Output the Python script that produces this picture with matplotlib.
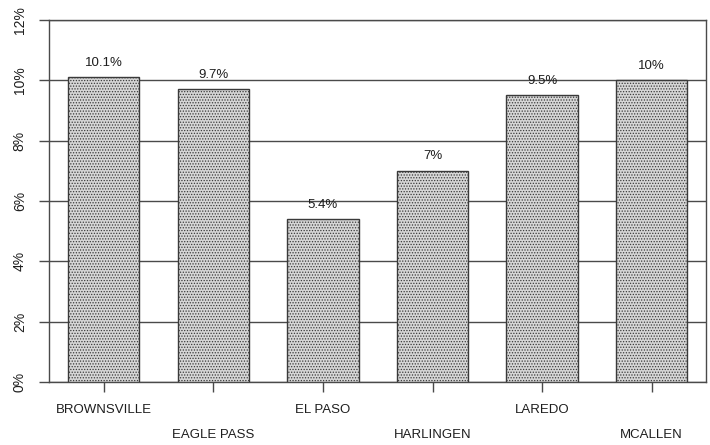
import matplotlib.pyplot as plt
from matplotlib.ticker import FuncFormatter

cities = ["BROWNSVILLE", "EAGLE PASS", "EL PASO", "HARLINGEN", "LAREDO", "MCALLEN"]
rates = [10.1, 9.7, 5.4, 7.0, 9.5, 10.0]
rate_labels = ["10.1%", "9.7%", "5.4%", "7%", "9.5%", "10%"]
y_ticks = [0, 2, 4, 6, 8, 10, 12]

plt.rcParams["font.family"] = ["Liberation Sans", "DejaVu Sans"]
plt.rcParams["hatch.color"] = "#9a9a9a"
plt.rcParams["hatch.linewidth"] = 0.6
line_col = "#4a4a4a"
text_col = "#1e1e1e"

fig = plt.figure(figsize=(7.1, 4.45), dpi=100)
ax = fig.add_axes([0.069, 0.142, 0.926, 0.813])

x = range(len(cities))
ax.bar(x, rates, width=0.65, color="#d6d6d6", edgecolor="#3a3a3a",
       linewidth=1.0, hatch="......", zorder=3)

for i, (v, lab) in enumerate(zip(rates, rate_labels)):
    ax.annotate(lab, (i, v), xytext=(0, 6), textcoords="offset points",
                ha="center", va="bottom", fontsize=9.5, color=text_col)

ax.set_xlim(-0.5, len(cities) - 0.5)
ax.set_ylim(0, 12)
ax.set_yticks(y_ticks)
ax.yaxis.set_major_formatter(FuncFormatter(lambda v, p: f"{v:.0f}%"))
ax.grid(axis="y", color=line_col, linewidth=1.0, zorder=0)

for s in ax.spines.values():
    s.set_color(line_col)
    s.set_linewidth(1.0)

ax.tick_params(axis="y", length=7, width=1.0, color=line_col, pad=9,
               labelsize=10, labelcolor=text_col)
for lab in ax.get_yticklabels():
    lab.set_rotation(90)
    lab.set_va("center")

ax.set_xticks(list(x))
ax.set_xticklabels(cities)
ax.tick_params(axis="x", length=7, width=1.0, color=line_col,
               labelsize=9.5, labelcolor=text_col)
for i, t in enumerate(ax.xaxis.get_major_ticks()):
    t.set_pad(9 if i % 2 == 0 else 27)

fig.savefig("out.png", dpi=100)
